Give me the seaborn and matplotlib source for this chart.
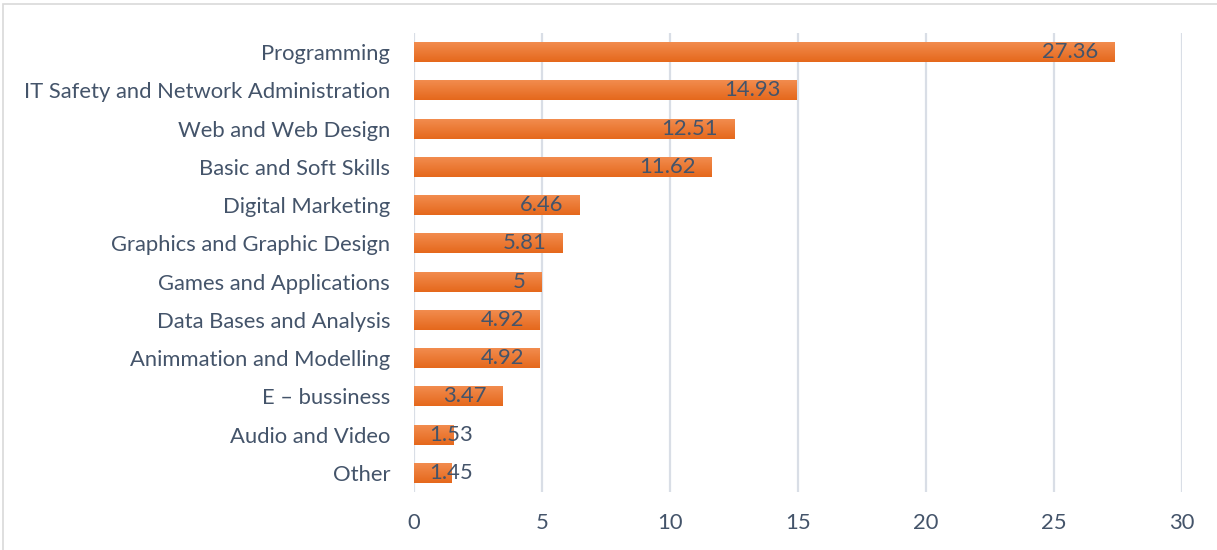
import matplotlib
matplotlib.use('Agg')
import matplotlib.pyplot as plt
import numpy as np
import pandas as pd
import seaborn as sns
from matplotlib.patches import Rectangle

categories = ["Programming", "IT Safety and Network Administration", "Web and Web Design",
              "Basic and Soft Skills", "Digital Marketing", "Graphics and Graphic Design",
              "Games and Applications", "Data Bases and Analysis", "Animmation and Modelling",
              "E \u2013 bussiness", "Audio and Video", "Other"]
values = [27.36, 14.93, 12.51, 11.62, 6.46, 5.81, 5, 4.92, 4.92, 3.47, 1.53, 1.45]
labels = ["27.36", "14.93", "12.51", "11.62", "6.46", "5.81", "5", "4.92", "4.92", "3.47", "1.53", "1.45"]
x_ticks = [0, 5, 10, 15, 20, 25, 30]

df = pd.DataFrame({"category": categories, "value": values})

sns.set_style("white")
plt.rcParams['font.family'] = ['Lato', 'DejaVu Sans']
text_color = "#44546A"
fs = 15.8

fig = plt.figure(figsize=(12.17, 5.5), dpi=100)
ax = fig.add_axes([0.340, 0.1055, 0.631, 0.8345])

sns.barplot(data=df, y="category", x="value", color="#ED7D31", width=0.52,
            saturation=1, ax=ax, zorder=3)

# vertical gradient on each bar (lighter on top, darker at bottom)
grad = np.linspace(0, 1, 64).reshape(-1, 1)
cmap = matplotlib.colors.LinearSegmentedColormap.from_list("og", ["#F28C4E", "#E5681C"])
for p in ax.patches:
    x0, y0 = p.get_x(), p.get_y()
    w, h = p.get_width(), p.get_height()
    ax.imshow(grad, cmap=cmap, aspect='auto', extent=(x0, x0 + w, y0 + h, y0),
              zorder=3.5, interpolation='bilinear')
    p.set_visible(False)

for i, (v, lab) in enumerate(zip(values, labels)):
    if v > 3:
        ax.text(v - 0.62, i, lab, ha='right', va='center', fontsize=fs, color=text_color, zorder=5)
    else:
        ax.text(0.62, i, lab, ha='left', va='center', fontsize=fs, color=text_color, zorder=5)

ax.set_xlim(0, 30)
ax.set_ylim(len(categories) - 0.5, -0.5)
ax.set_xticks(x_ticks)
ax.set_xticklabels([str(t) for t in x_ticks])
ax.xaxis.grid(True, color="#D9DEE6", linewidth=1.6, zorder=0)
ax.set_axisbelow(True)
ax.set_xlabel("")
ax.set_ylabel("")
for s in ax.spines.values():
    s.set_visible(False)
ax.tick_params(axis='both', length=0, labelsize=fs, colors=text_color)
ax.tick_params(axis='y', pad=17)
ax.tick_params(axis='x', pad=15)

# outer chart border
fig.patches.append(Rectangle((3 / 1217, -0.01), 1.02, 1 - 4 / 550 + 0.01, transform=fig.transFigure,
                             fill=False, edgecolor="#D9D9D9", linewidth=1.2))

fig.savefig("out.png", dpi=100)
